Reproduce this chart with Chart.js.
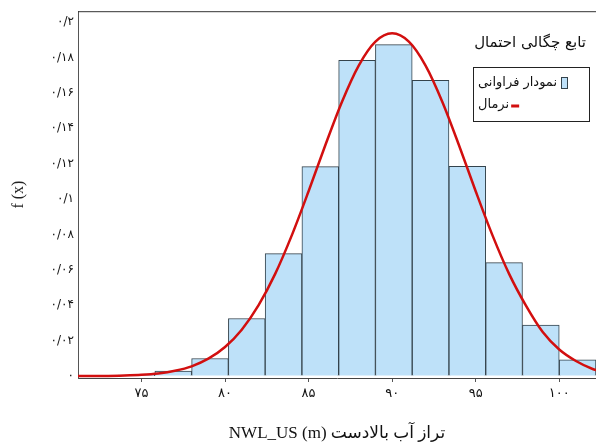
<!DOCTYPE html>
<html lang="fa">
<head>
    <meta charset="UTF-8">
    <title>NWL_US</title>
    <style>
        body { margin: 0; background: #fff; }
        #wrap { width: 596px; height: 448px; }
    </style>
    <script src="https://cdn.jsdelivr.net/npm/chart.js"></script>
</head>
<body>
    <div id="wrap"><canvas id="histChart" width="596" height="448"></canvas></div>

    <script>
        // histogram bins (centre of each bin) and relative frequency density
        const binCenters = [74.7, 76.9, 79.1, 81.3, 83.5, 85.7, 87.9, 90.1, 92.3, 94.5, 96.7, 98.9, 101.1];
        const binDensity = [0.0006, 0.0028, 0.0099, 0.0325, 0.0692, 0.1183, 0.1783, 0.1872, 0.1670, 0.1185, 0.0641, 0.0288, 0.0092];

        // fitted normal density f(x)
        const curveX = [71, 72, 73, 74, 75, 76, 77, 78, 79, 80, 81, 82, 83, 84, 85, 86, 87, 88, 89, 90,
                        91, 92, 93, 94, 95, 96, 97, 98, 99, 100, 101, 102, 102.3];
        const curveY = [0.0000, 0.0001, 0.0001, 0.0003, 0.0007, 0.0015, 0.0030, 0.0055, 0.0098, 0.0164,
                        0.0262, 0.0399, 0.0577, 0.0796, 0.1044, 0.1304, 0.1550, 0.1754, 0.1889, 0.1936,
                        0.1889, 0.1754, 0.1550, 0.1304, 0.1044, 0.0796, 0.0577, 0.0399, 0.0250, 0.0150,
                        0.0085, 0.0040, 0.0032];

        // axis ticks and their Persian labels
        const xTicks = [75, 80, 85, 90, 95, 100];
        const xTickLabels = ['۷۵', '۸۰', '۸۵', '۹۰', '۹۵', '۱۰۰'];
        const yTicks = [0, 0.02, 0.04, 0.06, 0.08, 0.1, 0.12, 0.14, 0.16, 0.18, 0.2];
        const yTickLabels = ['۰', '۰/۰۲', '۰/۰۴', '۰/۰۶', '۰/۰۸', '۰/۱', '۰/۱۲', '۰/۱۴', '۰/۱۶', '۰/۱۸', '۰/۲'];

        const legendTitle = 'تابع چگالی احتمال';
        const histLabel = 'نمودار فراوانی';
        const normalLabel = 'نرمال';

        const barFill = 'rgb(190, 225, 249)';
        const barEdge = '#34434c';
        const curveColor = '#d20f0f';

        // legend box and top frame line
        const legendPlugin = {
            id: 'legendBox',
            afterDraw(chart) {
                const ctx = chart.ctx;
                const area = chart.chartArea;
                ctx.save();

                ctx.strokeStyle = '#333';
                ctx.lineWidth = 1;
                ctx.beginPath();
                ctx.moveTo(area.left, area.top + 0.5);
                ctx.lineTo(area.right, area.top + 0.5);
                ctx.stroke();

                ctx.fillStyle = '#111';
                ctx.textBaseline = 'middle';
                ctx.font = '15px "DejaVu Sans"';
                ctx.textAlign = 'center';
                ctx.fillText(legendTitle, 530, 43);

                const bx = 473.5, by = 67.5, bw = 116, bh = 54;
                ctx.fillStyle = '#fff';
                ctx.fillRect(bx, by, bw, bh);
                ctx.strokeStyle = '#222';
                ctx.strokeRect(bx, by, bw, bh);

                ctx.font = '13px "DejaVu Sans"';
                ctx.textAlign = 'left';
                ctx.fillStyle = '#111';
                ctx.fillText(histLabel, 478, 83);
                let w = ctx.measureText(histLabel).width;
                ctx.fillStyle = barFill;
                ctx.fillRect(478 + w + 4.5, 77.5, 6, 11);
                ctx.strokeStyle = barEdge;
                ctx.strokeRect(478 + w + 4.5, 77.5, 6, 11);

                ctx.fillStyle = '#111';
                ctx.fillText(normalLabel, 478, 105);
                w = ctx.measureText(normalLabel).width;
                ctx.strokeStyle = curveColor;
                ctx.lineWidth = 3;
                ctx.beginPath();
                ctx.moveTo(478 + w + 2, 106);
                ctx.lineTo(478 + w + 10, 106);
                ctx.stroke();

                ctx.restore();
            }
        };

        const ctx = document.getElementById('histChart').getContext('2d');
        new Chart(ctx, {
            data: {
                datasets: [
                    {
                        type: 'line',
                        label: normalLabel,
                        data: curveX.map((x, i) => ({ x: x, y: curveY[i] })),
                        borderColor: curveColor,
                        borderWidth: 2.5,
                        pointRadius: 0,
                        fill: false,
                        cubicInterpolationMode: 'monotone',
                        order: 0
                    },
                    {
                        type: 'bar',
                        label: histLabel,
                        data: binCenters.map((x, i) => ({ x: x, y: binDensity[i] })),
                        backgroundColor: barFill,
                        borderColor: barEdge,
                        borderWidth: 1,
                        barPercentage: 1,
                        categoryPercentage: 1,
                        order: 1
                    }
                ]
            },
            options: {
                responsive: false,
                animation: false,
                layout: { padding: { top: 7, left: 0, right: 0, bottom: 0 } },
                plugins: {
                    legend: { display: false },
                    tooltip: { enabled: false }
                },
                scales: {
                    x: {
                        type: 'linear',
                        offset: false,
                        min: 71.2,
                        max: 102.2,
                        afterBuildTicks: (scale) => { scale.ticks = xTicks.map(v => ({ value: v })); },
                        afterFit: (scale) => { scale.height = 70; },
                        grid: { offset: false, drawOnChartArea: false, drawTicks: true, tickLength: 4, color: '#555' },
                        border: { display: true, color: '#444', width: 1 },
                        ticks: {
                            padding: 4,
                            color: '#111',
                            font: { family: '"DejaVu Sans"', size: 13 },
                            callback: (v) => xTickLabels[xTicks.indexOf(v)]
                        },
                        title: {
                            display: true,
                            text: 'NWL_US (m) تراز آب بالادست',
                            color: '#111',
                            font: { family: '"Liberation Serif", "DejaVu Sans"', size: 17 },
                            padding: { top: 0, bottom: 4 }
                        }
                    },
                    y: {
                        min: -0.0011,
                        max: 0.2061,
                        afterBuildTicks: (scale) => { scale.ticks = yTicks.map(v => ({ value: v })); },
                        afterFit: (scale) => { scale.width = 78; },
                        grid: { drawOnChartArea: false, drawTicks: false },
                        border: { display: true, color: '#555', width: 1 },
                        ticks: {
                            padding: 4,
                            color: '#111',
                            font: { family: '"DejaVu Sans"', size: 12 },
                            callback: (v) => yTickLabels[yTicks.indexOf(v)]
                        },
                        title: {
                            display: true,
                            text: 'f (x)',
                            color: '#222',
                            font: { family: '"Liberation Serif"', size: 16 },
                            padding: { top: 9, bottom: 0 }
                        }
                    }
                }
            },
            plugins: [legendPlugin]
        });
    </script>
</body>
</html>
